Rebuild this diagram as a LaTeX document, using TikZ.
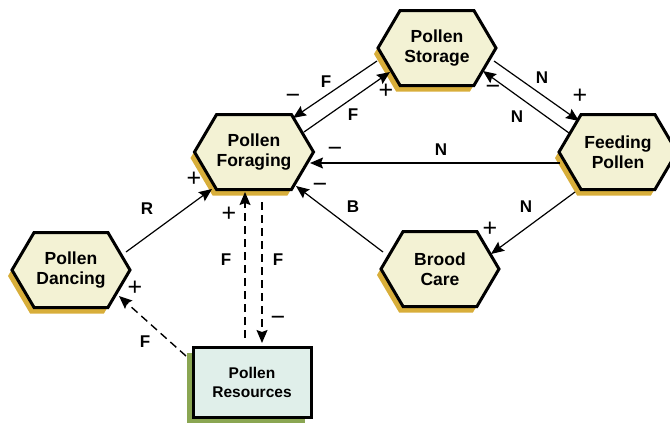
\documentclass[tikz,border=0pt]{standalone}
\usepackage{fontspec}
\setmainfont{Liberation Sans}
\usetikzlibrary{arrows.meta}
\usetikzlibrary{calc}
\usetikzlibrary{shapes.symbols}
\usetikzlibrary{shadows}

\definecolor{hexfill}{RGB}{243,242,212}
\definecolor{hexshadow}{RGB}{216,174,58}
\definecolor{resfill}{RGB}{224,239,234}
\definecolor{resshadow}{RGB}{138,166,82}

\begin{document}
\begin{tikzpicture}[x=1pt,y=-1pt,
    hexa/.style={signal, signal to=east and west, signal pointer angle=119,
      draw=black, line width=3pt, fill=hexfill, minimum width=118pt,
      minimum height=75pt, inner sep=0pt, align=center,
      font=\bfseries\fontsize{17.5}{19.5}\selectfont,
      drop shadow={shadow xshift=-4pt, shadow yshift=-6pt, fill=hexshadow, opacity=1}},
    resbox/.style={rectangle, draw=black, line width=3pt, fill=resfill,
      minimum width=118pt, minimum height=70pt, align=center,
      font=\bfseries\fontsize{15.5}{19}\selectfont,
      drop shadow={shadow xshift=-6pt, shadow yshift=-6pt, fill=resshadow, opacity=1}},
    link/.style={-{Stealth[length=13pt,width=11pt,inset=2pt]}, line width=1.2pt},
    dlink/.style={link, line width=1.4pt, dash pattern=on 8pt off 5pt},
    lbl/.style={font=\bfseries\fontsize{17}{19}\selectfont, inner sep=0pt},
    sgn/.style={font=\fontsize{25}{25}\selectfont, inner sep=0pt, text height=0.7em, text depth=0pt}]
    % Define the nodes
    \useasboundingbox (0,0) rectangle (670,423);
    \node[hexa] (stor) at (437,48) {Pollen\\Storage};
    \node[hexa] (forag) at (254,152) {Pollen\\Foraging};
    \node[hexa] (feed) at (618,152) {Feeding\\Pollen};
    \node[hexa] (brood) at (440,269) {Brood\\Care};
    \node[hexa] (danc) at (71,270) {Pollen\\Dancing};
    \node[resbox] (res) at (252,382) {Pollen\\Resources};

    % Draw the links between the nodes
    \draw[link] ($(stor)+(-60,13)$) -- ($(forag)+(39,-34)$);
    \draw[link] ($(forag)+(50,-20)$) -- ($(stor)+(-47,24)$);
    \draw[link] ($(stor)+(57,13)$) -- ($(feed)+(-39,-31)$);
    \draw[link] ($(feed)+(-49,-19)$) -- ($(stor)+(46,23)$);
    \draw[link] ($(feed)+(-58,11)$) -- ($(forag)+(56,11)$);
    \draw[link] ($(feed)+(-43,40)$) -- ($(brood)+(51,-15)$);
    \draw[link] ($(brood)+(-57,-17)$) -- ($(forag)+(42,34)$);
    \draw[link] ($(danc)+(55,-18)$) -- ($(forag)+(-42,37)$);
    \draw[dlink] ($(res)+(-7,-44)$) -- ($(forag)+(-9,40)$);
    \draw[dlink] ($(forag)+(8,50)$) -- ($(res)+(10,-39)$);
    \draw[dlink] ($(res)+(-66,-26)$) -- ($(danc)+(48,26)$);

    % Letters and signs on the links
    \foreach \n/\p/\t in {lf1/{326,82}/F, lf2/{353,115}/F, ln3/{542,78}/N,
        ln4/{517,117}/N, ln5/{441,150}/N, ln6/{526,207}/N, lb7/{353,207}/B,
        lr8/{147,209}/R, lf9/{226,260}/F, lf10/{278,260}/F, lf11/{145,342}/F}
        \node[lbl] (\n) at (\p) {\t};
    \foreach \n/\p/\t in {s1/{293,100}/−, s2/{386,95}/+, s3/{580,100}/+,
        s4/{493,91}/−, s5/{335,153}/−, s6/{490,233}/+, s7/{320,189}/−,
        s8/{194,183}/+, s9/{229,218}/+, s10/{278,322}/−, s11/{135,292}/+}
        \node[sgn] (\n) at (\p) {\t};
\end{tikzpicture}
\end{document}
